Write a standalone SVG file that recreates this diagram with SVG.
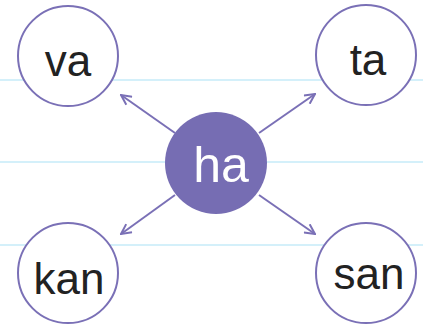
<svg xmlns="http://www.w3.org/2000/svg" width="423" height="325" viewBox="0 0 423 325">
<defs>
<style>
.rule{stroke:#c6ebf8;stroke-width:1.5;fill:none}
.node{fill:#ffffff;stroke:#7a70b6;stroke-width:2}
.lbl{font-family:"Liberation Sans",Arial,sans-serif;font-size:44px;fill:#222;text-anchor:middle}
.conn{stroke:#7a70b6;stroke-width:2;fill:none}
</style>
<marker id="arr" viewBox="0 0 12 12" refX="11" refY="6" markerWidth="12" markerHeight="12" markerUnits="userSpaceOnUse" orient="auto">
<path d="M1,1 L11,6 L1,11" fill="none" stroke="#7a70b6" stroke-width="2"/>
</marker>
</defs>
<rect width="423" height="325" fill="#ffffff"/>
<g id="rules">
<line class="rule" x1="0" y1="80" x2="423" y2="80"/>
<line class="rule" x1="0" y1="162" x2="423" y2="162"/>
<line class="rule" x1="0" y1="245" x2="423" y2="245"/>
</g>
<g id="connectors">
<line class="conn" x1="175" y1="133" x2="121" y2="95" marker-end="url(#arr)"/>
<line class="conn" x1="259" y1="133" x2="315" y2="94" marker-end="url(#arr)"/>
<line class="conn" x1="175" y1="195" x2="121" y2="234" marker-end="url(#arr)"/>
<line class="conn" x1="259" y1="195" x2="315" y2="234" marker-end="url(#arr)"/>
</g>
<g id="va"><circle class="node" cx="68" cy="56" r="50"/><text class="lbl" x="68" y="76">va</text></g>
<g id="ta"><circle class="node" cx="366" cy="55" r="50"/><text class="lbl" x="368" y="75">ta</text></g>
<g id="kan"><circle class="node" cx="68" cy="273" r="50"/><text class="lbl" x="69" y="294">kan</text></g>
<g id="san"><circle class="node" cx="366" cy="273" r="50"/><text class="lbl" x="369" y="289">san</text></g>
<g id="ha"><circle cx="216" cy="163" r="51" fill="#766db3"/><text class="lbl" x="221" y="182" style="fill:#ffffff;font-size:50px">ha</text></g>
</svg>
